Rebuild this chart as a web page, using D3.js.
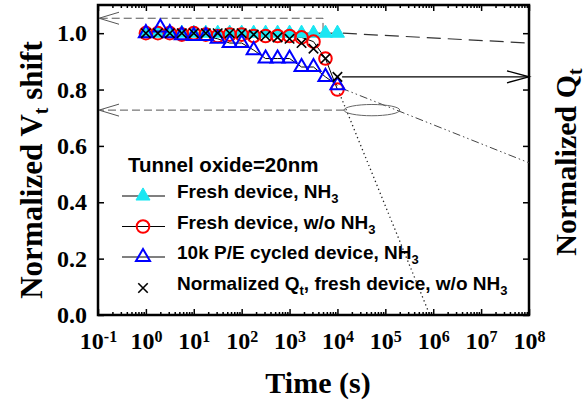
<!DOCTYPE html>
<html><head><meta charset="utf-8">
<script src="https://cdn.jsdelivr.net/npm/d3@7"></script>
<style>body{margin:0;background:#fff}</style>
</head><body>
<svg id="c" width="586" height="402"></svg>
<script>
// ---- data ----
const times = [1, 1.78, 3.16, 5.62, 10, 17.8, 31.6, 56.2, 100, 178, 316, 562, 1000, 1780, 3160, 5620, 10000];
const timesBlue = [1, 2, 3.16, 5.62, 10, 17.8, 31.6, 56.2, 100, 178, 316, 562, 1000, 1780, 3160, 5620, 10000];
const freshNH3 =   [1.0, 1.0, 1.0, 1.0, 1.0, 1.0, 1.0, 1.0, 1.0, 1.0, 1.0, 1.0, 1.0, 1.0, 1.0, 1.0, 1.0];
const freshNoNH3 = [1.0, 1.0, 1.0, 0.995, 1.0, 0.995, 0.99, 0.995, 0.995, 0.99, 0.99, 0.99, 0.99, 0.985, 0.97, 0.91, 0.80];
const cycledNH3 =  [1.0, 1.02, 1.0, 0.993, 0.99, 0.99, 0.98, 0.965, 0.965, 0.94, 0.91, 0.91, 0.91, 0.88, 0.88, 0.845, 0.815];
const qtFresh =    [1.0, 1.0, 1.0, 1.0, 1.0, 1.0, 1.0, 1.0, 1.0, 0.995, 0.99, 0.985, 0.98, 0.965, 0.945, 0.91, 0.845];
const xTickExps = [-1, 0, 1, 2, 3, 4, 5, 6, 7, 8];
const yTicks = [0, 0.2, 0.4, 0.6, 0.8, 1.0];
const yTickLabels = ["0.0", "0.2", "0.4", "0.6", "0.8", "1.0"];
// guide lines (time, value)
const cyanExtrap = [[1.3e4, 1.0], [1e8, 0.965]];
const qtArrow = [[1.25e4, 0.845], [1e8, 0.845]];
const blueExtrap = [[1.2e4, 0.805], [1e8, 0.54]];
const redExtrap = [[1.1e4, 0.787], [8.5e5, 0]];
const topGuide = [[5000, 1.008], [5000, 1.053], [0.105, 1.053]];
const lowGuide = [[1.37e4, 0.727], [0.105, 0.727]];
const ellipseX = [1.37e4, 2.0e5];
const ellipseY = [0.707, 0.747];

const svg = d3.select("#c");
const L = 98, R = 529, T = 5, B = 315;
const x = d3.scaleLog().domain([0.1, 1e8]).range([L, R]);
const y = d3.scaleLinear().domain([0, 1.1]).range([B, T]);
const serif = "'Liberation Serif','Times New Roman',serif";
const sans = "'Liberation Sans',Arial,sans-serif";

// minor ticks
const minor = [];
for (let e = -1; e < 8; e++) for (let m = 2; m <= 9; m++) minor.push(m * Math.pow(10, e));
const majors = xTickExps.map(e => Math.pow(10, e));

function styleAxis(g) {
  g.select(".domain").remove();
  g.selectAll("line").attr("stroke", "#000").attr("stroke-width", 1.5);
}
svg.append("g").attr("transform", `translate(0,${B})`)
  .call(d3.axisBottom(x).tickValues(minor).tickSize(-3).tickFormat("")).call(styleAxis);
svg.append("g").attr("transform", `translate(0,${T})`)
  .call(d3.axisTop(x).tickValues(minor).tickSize(-3).tickFormat("")).call(styleAxis);
svg.append("g").attr("transform", `translate(0,${T})`)
  .call(d3.axisTop(x).tickValues(majors).tickSize(-6).tickFormat("")).call(styleAxis);
const xb = svg.append("g").attr("transform", `translate(0,${B})`)
  .call(d3.axisBottom(x).tickValues(majors).tickSize(-6).tickPadding(14).tickFormat(""));
styleAxis(xb);
xb.selectAll(".tick text").each(function(d, i) {
  const t = d3.select(this).attr("font-family", serif).attr("font-weight", "bold")
    .attr("font-size", 24).attr("fill", "#000").attr("dy", "0.85em");
  t.append("tspan").text("10");
  t.append("tspan").attr("dy", "-0.45em").attr("font-size", 16).text(String(xTickExps[i]));
});

const yl = svg.append("g").attr("transform", `translate(${L},0)`)
  .call(d3.axisLeft(y).tickValues(yTicks).tickSize(-6).tickPadding(11).tickFormat((d, i) => yTickLabels[i]));
styleAxis(yl);
yl.selectAll("text").attr("font-family", serif).attr("font-weight", "bold").attr("font-size", 24).attr("fill", "#000");
svg.append("g").attr("transform", `translate(${R},0)`)
  .call(d3.axisRight(y).tickValues(yTicks).tickSize(-6).tickFormat("")).call(styleAxis);

// frame
svg.append("rect").attr("x", L).attr("y", T).attr("width", R - L).attr("height", B - T)
  .attr("fill", "none").attr("stroke", "#000").attr("stroke-width", 2.5);

const line = d3.line().x(d => x(d[0])).y(d => y(d[1]));

// guide lines
svg.append("path").attr("d", line(cyanExtrap)).attr("fill", "none").attr("stroke", "#333")
  .attr("stroke-width", 1.2).attr("stroke-dasharray", "14,7");
svg.append("path").attr("d", line(qtArrow)).attr("fill", "none").attr("stroke", "#000").attr("stroke-width", 1.4);
{
  const tx = x(qtArrow[1][0]), ty = y(qtArrow[1][1]);
  svg.append("path").attr("d", `M${tx - 22},${ty - 6}L${tx},${ty}L${tx - 22},${ty + 6}`)
    .attr("fill", "none").attr("stroke", "#000").attr("stroke-width", 1.4);
}
svg.append("path").attr("d", line(blueExtrap)).attr("fill", "none").attr("stroke", "#444")
  .attr("stroke-width", 1).attr("stroke-dasharray", "8,3,1.5,3,1.5,3");
svg.append("path").attr("d", line(redExtrap)).attr("fill", "none").attr("stroke", "#222")
  .attr("stroke-width", 1.3).attr("stroke-dasharray", "1.3,3");
[topGuide, lowGuide].forEach(g => {
  svg.append("path").attr("d", line(g)).attr("fill", "none").attr("stroke", "#555")
    .attr("stroke-width", 1).attr("stroke-dasharray", "8,4");
  const p = g[g.length - 1];
  const tx = x(p[0]), ty = y(p[1]);
  svg.append("path").attr("d", `M${tx + 20},${ty - 6}L${tx},${ty}L${tx + 20},${ty + 6}`)
    .attr("fill", "none").attr("stroke", "#555").attr("stroke-width", 1);
});
svg.append("ellipse")
  .attr("cx", (x(ellipseX[0]) + x(ellipseX[1])) / 2).attr("cy", (y(ellipseY[0]) + y(ellipseY[1])) / 2)
  .attr("rx", (x(ellipseX[1]) - x(ellipseX[0])) / 2).attr("ry", (y(ellipseY[0]) - y(ellipseY[1])) / 2)
  .attr("fill", "none").attr("stroke", "#666").attr("stroke-width", 1);

// series
const tri = d3.symbol().type(d3.symbolTriangle).size(85);
const circ = d3.symbol().type(d3.symbolCircle).size(125);
const cross = d3.symbol().type(d3.symbolX).size(60);
const series = [
  {t: times, v: freshNH3, sym: tri, fill: "#1ae6f2", stroke: "#1ae6f2", sw: 1, line: true},
  {t: times, v: freshNoNH3, sym: circ, fill: "none", stroke: "#ff0000", sw: 2, line: true},
  {t: timesBlue, v: cycledNH3, sym: tri, fill: "none", stroke: "#0000ff", sw: 2, line: true},
  {t: times, v: qtFresh, sym: cross, fill: "#000", stroke: "#000", sw: 1.6, line: false}
];
series.forEach(s => {
  const pts = s.t.map((t, i) => [t, s.v[i]]);
  if (s.line) svg.append("path").attr("d", line(pts)).attr("fill", "none").attr("stroke", "#000").attr("stroke-width", 1);
});
series.forEach(s => {
  const pts = s.t.map((t, i) => [t, s.v[i]]);
  svg.append("g").selectAll("path").data(pts).join("path")
    .attr("transform", d => `translate(${x(d[0])},${y(d[1])})`)
    .attr("d", s.sym()).attr("fill", s.fill).attr("stroke", s.stroke).attr("stroke-width", s.sw);
});

// legend
const legend = svg.append("g").attr("font-family", sans).attr("font-weight", "bold").attr("font-size", 19).attr("fill", "#000");
legend.append("text").attr("x", 128).attr("y", 172).attr("font-size", 20.5).text("Tunnel oxide=20nm");
const legendRows = [
  {parts: [["Fresh device, NH", 0], ["3", 1]]},
  {parts: [["Fresh device, w/o NH", 0], ["3", 1]]},
  {parts: [["10k P/E cycled device, NH", 0], ["3", 1]]},
  {parts: [["Normalized Q", 0], ["t", 1], [", fresh device, w/o NH", 0], ["3", 1]]}
];
const rowY = [203, 233.5, 264, 295];
legendRows.forEach((r, i) => {
  const s = series[i];
  const cy = rowY[i] - 7;
  if (s.line) legend.append("line").attr("x1", 122).attr("x2", 165).attr("y1", cy).attr("y2", cy)
    .attr("stroke", "#000").attr("stroke-width", 1);
  legend.append("path").attr("transform", `translate(143,${cy})`).attr("d", s.sym())
    .attr("fill", s.fill).attr("stroke", s.stroke).attr("stroke-width", s.sw);
  const t = legend.append("text").attr("x", 177).attr("y", rowY[i]);
  r.parts.forEach(p => {
    if (p[1]) t.append("tspan").attr("dy", 5).attr("font-size", 13).text(p[0]);
    else t.append("tspan").attr("dy", t.selectAll("tspan").size() ? -5 : 0).text(p[0]);
  });
});

// axis titles
svg.append("text").attr("x", 318).attr("y", 393).attr("text-anchor", "middle")
  .attr("font-family", serif).attr("font-weight", "bold").attr("font-size", 30).text("Time (s)");
const yt = svg.append("text").attr("transform", "translate(42,170) rotate(-90)").attr("text-anchor", "middle")
  .attr("font-family", serif).attr("font-weight", "bold").attr("font-size", 31);
yt.append("tspan").text("Normalized V");
yt.append("tspan").attr("dy", 6).attr("font-size", 20).text("t");
yt.append("tspan").attr("dy", -6).text(" shift");
const rt = svg.append("text").attr("transform", "translate(576,162) rotate(-90)").attr("text-anchor", "middle")
  .attr("font-family", serif).attr("font-weight", "bold").attr("font-size", 30);
rt.append("tspan").text("Normalized Q");
rt.append("tspan").attr("dy", 6).attr("font-size", 20).text("t");
</script>
</body></html>
